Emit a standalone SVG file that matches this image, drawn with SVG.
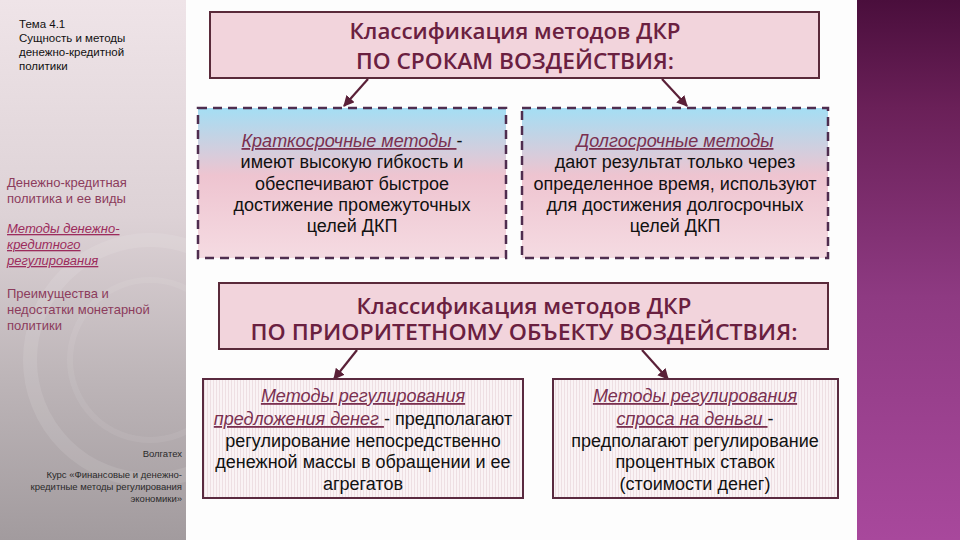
<svg xmlns="http://www.w3.org/2000/svg" width="960" height="540" viewBox="0 0 960 540">
<defs>
<linearGradient id="side" x1="0" y1="0" x2="0" y2="1">
<stop offset="0" stop-color="#efe4e8"/>
<stop offset="0.4" stop-color="#ddd2d6"/>
<stop offset="0.7" stop-color="#bdb5b8"/>
<stop offset="1" stop-color="#a29b9e"/>
</linearGradient>
<linearGradient id="band" x1="0" y1="0" x2="0" y2="1">
<stop offset="0" stop-color="#4a0e3c"/>
<stop offset="0.2" stop-color="#6a2058"/>
<stop offset="0.55" stop-color="#8e3a82"/>
<stop offset="1" stop-color="#a8489c"/>
</linearGradient>
<linearGradient id="mid" x1="0" y1="0" x2="0" y2="1">
<stop offset="0" stop-color="#a4def4"/>
<stop offset="0.45" stop-color="#eec4d0"/>
<stop offset="1" stop-color="#f5dbe2"/>
</linearGradient>
<pattern id="stripes" width="3" height="4" patternUnits="userSpaceOnUse">
<rect width="3" height="4" fill="#faf3f5"/>
<rect width="1" height="4" fill="#eedfe3"/>
</pattern>
<marker id="ah" viewBox="0 0 10 10" refX="9" refY="5" markerWidth="5" markerHeight="5" orient="auto" markerUnits="strokeWidth">
<path d="M0,0 L10,5 L0,10 z" fill="#5a2038"/>
</marker>
<style>
.side{font-family:"Liberation Sans","DejaVu Sans",sans-serif;}
.t{font-family:"Open Sans","Liberation Sans",sans-serif;font-weight:600;font-size:21px;fill:#6a2040;text-anchor:middle;}
.b{font-family:"Liberation Sans","DejaVu Sans",sans-serif;font-size:18px;fill:#111;text-anchor:middle;}
.u{font-style:italic;fill:#7a3050;text-decoration:underline;}
.title{fill:#f2d4dc;stroke:#5a2a3a;stroke-width:2;}
.dash{fill:url(#mid);stroke:#4f2d4f;stroke-width:2.5;stroke-dasharray:9 6;}
.solid{fill:url(#stripes);stroke:#5a2a40;stroke-width:2;}
.arr{stroke:#5a2038;stroke-width:2.2;fill:none;marker-end:url(#ah);}
</style>
</defs>
<rect width="960" height="540" fill="#fdfdfd"/>
<g id="sidebar">
<rect x="0" y="0" width="186" height="540" fill="url(#side)"/>
<circle cx="150" cy="360" r="120" fill="none" stroke="#ffffff" stroke-opacity="0.1" stroke-width="14"/>
<circle cx="150" cy="360" r="80" fill="none" stroke="#ffffff" stroke-opacity="0.07" stroke-width="6"/>
<g class="side" font-size="11.5" fill="#111">
<text x="19" y="28">Тема 4.1</text>
<text x="19" y="42">Сущность и методы</text>
<text x="19" y="56">денежно-кредитной</text>
<text x="19" y="70">политики</text>
</g>
<g class="side" font-size="13" fill="#8c3c5c">
<text x="7" y="187">Денежно-кредитная</text>
<text x="7" y="203">политика и ее виды</text>
<g font-style="italic" text-decoration="underline" fill="#9c2c5c">
<text x="7" y="233">Методы денежно-</text>
<text x="7" y="249">кредитного</text>
<text x="7" y="265">регулирования</text>
</g>
<text x="7" y="298">Преимущества и</text>
<text x="7" y="314">недостатки монетарной</text>
<text x="7" y="330">политики</text>
</g>
<g class="side" font-size="9.5" fill="#2a2a2a" text-anchor="end">
<text x="182" y="457">Волгатех</text>
<text x="182" y="478">Курс «Финансовые и денежно-</text>
<text x="182" y="490">кредитные методы регулирования</text>
<text x="182" y="502">экономики»</text>
</g>
</g>
<rect id="band-right" x="857" y="0" width="103" height="540" fill="url(#band)"/>
<g id="connectors">
<line class="arr" x1="368" y1="79" x2="344" y2="106"/>
<line class="arr" x1="662" y1="79" x2="687" y2="106"/>
<line class="arr" x1="357" y1="350" x2="334" y2="379"/>
<line class="arr" x1="642" y1="350" x2="668" y2="379"/>
</g>
<g id="title1">
<rect class="title" x="210" y="12" width="609" height="66"/>
<text class="t" x="515" y="39" textLength="331" lengthAdjust="spacingAndGlyphs">Классификация методов ДКР</text>
<text class="t" x="515" y="69" textLength="318" lengthAdjust="spacingAndGlyphs">ПО СРОКАМ ВОЗДЕЙСТВИЯ:</text>
</g>
<g id="short">
<rect class="dash" x="198" y="108" width="308" height="150"/>
<text class="b" x="352" y="147"><tspan class="u">Краткосрочные методы </tspan>-</text>
<text class="b" x="352" y="168">имеют высокую гибкость и</text>
<text class="b" x="352" y="190">обеспечивают быстрое</text>
<text class="b" x="352" y="211">достижение промежуточных</text>
<text class="b" x="352" y="232">целей ДКП</text>
</g>
<g id="long">
<rect class="dash" x="522" y="108" width="306" height="150"/>
<text class="b" x="675" y="147"><tspan class="u">Долгосрочные  методы</tspan></text>
<text class="b" x="675" y="168">дают результат только через</text>
<text class="b" x="675" y="190">определенное время, используют</text>
<text class="b" x="675" y="211">для достижения долгосрочных</text>
<text class="b" x="675" y="232">целей ДКП</text>
</g>
<g id="title2">
<rect class="title" x="219" y="283" width="609" height="66"/>
<text class="t" x="524" y="314" textLength="335" lengthAdjust="spacingAndGlyphs">Классификация методов ДКР</text>
<text class="t" x="524" y="340" textLength="547" lengthAdjust="spacingAndGlyphs">ПО ПРИОРИТЕТНОМУ ОБЪЕКТУ ВОЗДЕЙСТВИЯ:</text>
</g>
<g id="supply">
<rect class="solid" x="203" y="379" width="320" height="119"/>
<text class="b" x="363" y="402"><tspan class="u">Методы регулирования</tspan></text>
<text class="b" x="363" y="425"><tspan class="u">предложения денег </tspan>- предполагают</text>
<text class="b" x="363" y="447">регулирование непосредственно</text>
<text class="b" x="363" y="468">денежной массы в обращении и ее</text>
<text class="b" x="363" y="490">агрегатов</text>
</g>
<g id="demand">
<rect class="solid" x="553" y="379" width="285" height="119"/>
<text class="b" x="695" y="402"><tspan class="u">Методы регулирования</tspan></text>
<text class="b" x="695" y="425"><tspan class="u">спроса на деньги </tspan>-</text>
<text class="b" x="695" y="447">предполагают регулирование</text>
<text class="b" x="695" y="468">процентных ставок</text>
<text class="b" x="695" y="490">(стоимости денег)</text>
</g>
</svg>
